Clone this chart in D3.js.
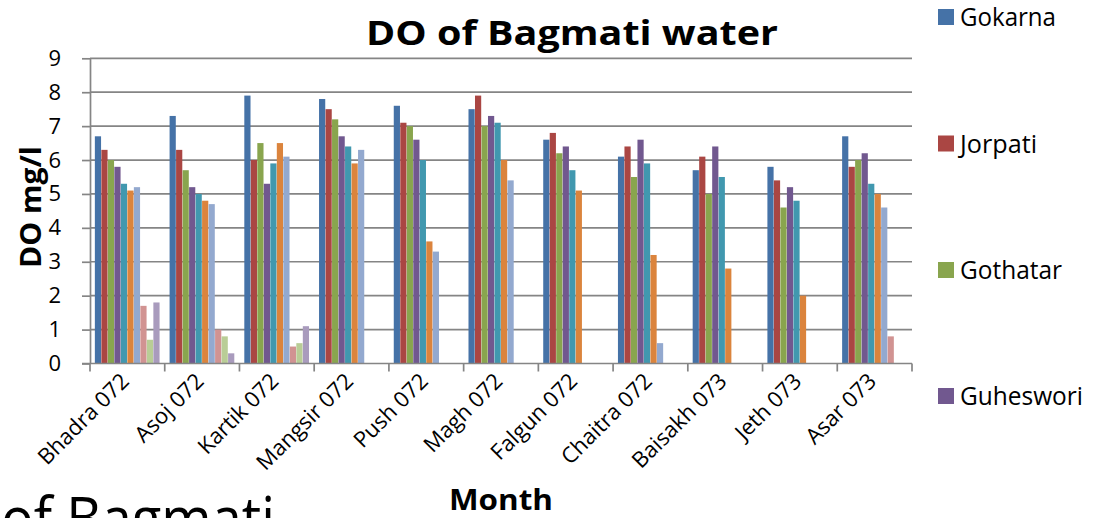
<!DOCTYPE html>
<html><head><meta charset="utf-8">
<script src="https://cdn.jsdelivr.net/npm/d3@7"></script>
<style>html,body{margin:0;padding:0;background:#fff;overflow:hidden}</style>
</head><body>
<svg id="c" width="1099" height="518"></svg>
<script>
const months = ["Bhadra 072","Asoj 072","Kartik 072","Mangsir 072","Push 072","Magh 072","Falgun 072","Chaitra 072","Baisakh 073","Jeth 073","Asar 073"];
const seriesNames = ["Gokarna","Jorpati","Gothatar","Guheswori","Site 5","Site 6","Site 7","Site 8","Site 9","Site 10"];
const gokarna   = [6.7,7.3,7.9,7.8,7.6,7.5,6.6,6.1,5.7,5.8,6.7];
const jorpati   = [6.3,6.3,6.0,7.5,7.1,7.9,6.8,6.4,6.1,5.4,5.8];
const gothatar  = [6.0,5.7,6.5,7.2,7.0,7.0,6.2,5.5,5.0,4.6,6.0];
const guheswori = [5.8,5.2,5.3,6.7,6.6,7.3,6.4,6.6,6.4,5.2,6.2];
const site5     = [5.3,5.0,5.9,6.4,6.0,7.1,5.7,5.9,5.5,4.8,5.3];
const site6     = [5.1,4.8,6.5,5.9,3.6,6.0,5.1,3.2,2.8,2.0,5.0];
const site7     = [5.2,4.7,6.1,6.3,3.3,5.4,null,0.6,null,null,4.6];
const site8     = [1.7,1.0,0.5,null,null,null,null,null,null,null,0.8];
const site9     = [0.7,0.8,0.6,null,null,null,null,null,null,null,null];
const site10    = [1.8,0.3,1.1,null,null,null,null,null,null,null,null];
const yTicks = [0,1,2,3,4,5,6,7,8,9];
const colors = ["#4572A7","#AA4643","#89A54E","#71588F","#4198AF","#DB843D","#93A9CF","#D19392","#B9CD96","#A99BBD"];

const allSeries = [gokarna,jorpati,gothatar,guheswori,site5,site6,site7,site8,site9,site10];
const legendShown = 4;

const svg = d3.select("#c");
const FONT = "'Open Sans', sans-serif";
const L = 90, R = 912, T = 58.3, B = 363.5;
const grey = "#858585";

const x0 = d3.scaleBand().domain(months).range([L, R]).paddingInner(0.13).paddingOuter(0.065);
const x1 = d3.scaleBand().domain(seriesNames).range([0, x0.bandwidth()]);
const y = d3.scaleLinear().domain([0, 9]).range([B, T]);
const color = d3.scaleOrdinal().domain(seriesNames).range(colors);

// gridlines
svg.append("g").selectAll("line").data(yTicks.filter(d => d > 0)).join("line")
  .attr("x1", L).attr("x2", R).attr("y1", d => y(d)).attr("y2", d => y(d))
  .attr("stroke", grey).attr("stroke-width", 1.7);

// bars
const rows = [];
months.forEach((m, i) => seriesNames.forEach((s, j) => {
  const v = allSeries[j][i];
  if (v != null) rows.push({m, s, v});
}));
svg.append("g").selectAll("rect").data(rows).join("rect")
  .attr("x", d => x0(d.m) + x1(d.s))
  .attr("width", x1.bandwidth() - 0.3)
  .attr("y", d => y(d.v))
  .attr("height", d => B - y(d.v))
  .attr("fill", d => color(d.s));

// y axis
const yAxis = svg.append("g").attr("transform", `translate(${L},0)`)
  .call(d3.axisLeft(y).tickValues(yTicks).tickSize(8).tickPadding(21).tickSizeOuter(0));
yAxis.select(".domain").attr("stroke", grey).attr("stroke-width", 1.7);
yAxis.selectAll(".tick line").attr("stroke", grey).attr("stroke-width", 1.7);
yAxis.selectAll("text").attr("font-family", FONT).attr("font-size", 22).attr("fill", "#000");

// x axis
const tickPos = months.map((m, i) => L + i * (R - L) / months.length).concat([R]);
const xAxis = svg.append("g");
xAxis.append("line").attr("x1", L - 8).attr("x2", R).attr("y1", B).attr("y2", B)
  .attr("stroke", grey).attr("stroke-width", 1.7);
xAxis.selectAll("line.t").data(tickPos).join("line").attr("class", "t")
  .attr("x1", d => d).attr("x2", d => d).attr("y1", B).attr("y2", B + 8)
  .attr("stroke", grey).attr("stroke-width", 1.7);
xAxis.selectAll("text").data(months).join("text")
  .attr("transform", d => `translate(${x0(d) + x0.bandwidth() / 2 + 3},${B + 19}) rotate(-45)`)
  .attr("text-anchor", "end")
  .attr("font-family", FONT).attr("font-size", 22).attr("fill", "#000")
  .text(d => d);

// title
svg.append("text").attr("x", 366).attr("y", 45)
  .attr("font-family", FONT).attr("font-weight", "bold").attr("font-size", 34)
  .attr("textLength", 412).attr("lengthAdjust", "spacingAndGlyphs")
  .text("DO of Bagmati water");

// y axis title
svg.append("text").attr("transform", "translate(41,207) rotate(-90)")
  .attr("text-anchor", "middle")
  .attr("font-family", FONT).attr("font-weight", "bold").attr("font-size", 28)
  .attr("textLength", 122).attr("lengthAdjust", "spacingAndGlyphs")
  .text("DO mg/l");

// x axis title
svg.append("text").attr("x", 449).attr("y", 510)
  .attr("font-family", FONT).attr("font-weight", "bold").attr("font-size", 29)
  .attr("textLength", 104).attr("lengthAdjust", "spacingAndGlyphs")
  .text("Month");

// legend (only the first entries fit in the frame)
const legendY = [17, 143.5, 270, 396];
const lg = svg.append("g").selectAll("g").data(seriesNames.slice(0, legendShown)).join("g")
  .attr("transform", (d, i) => `translate(938,${legendY[i]})`);
lg.append("rect").attr("x", 0).attr("y", -8).attr("width", 16).attr("height", 16).attr("fill", d => color(d));
const legendW = [96, 77, 102, 123];
lg.append("text").attr("x", 22).attr("y", 9)
  .attr("font-family", FONT).attr("font-size", 25).attr("fill", "#000")
  .attr("textLength", (d, i) => legendW[i]).attr("lengthAdjust", "spacingAndGlyphs")
  .text(d => d);

// slide text cut off at the bottom
svg.append("text").attr("x", 1).attr("y", 540)
  .attr("font-family", FONT).attr("font-size", 60).attr("fill", "#000")
  .attr("textLength", 274).attr("lengthAdjust", "spacingAndGlyphs")
  .text("of Bagmati");
</script>
</body></html>
